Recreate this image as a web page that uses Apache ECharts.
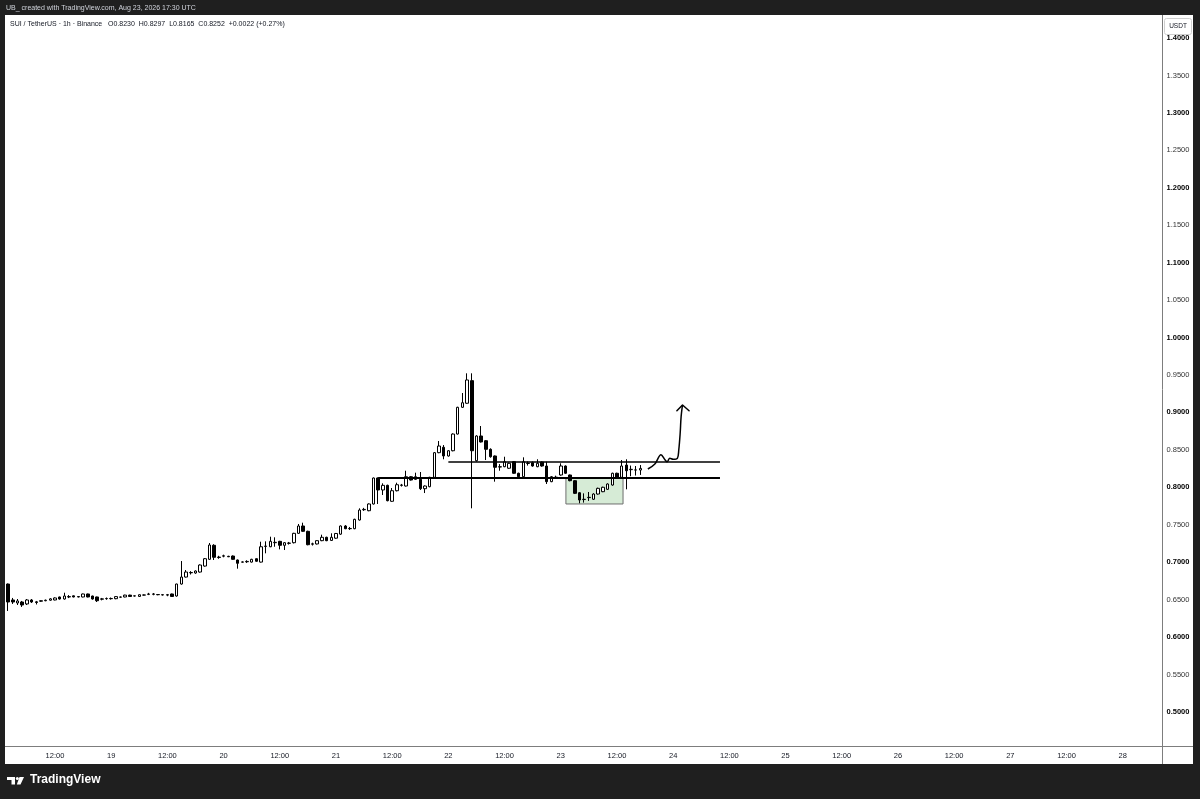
<!DOCTYPE html>
<html>
<head>
<meta charset="utf-8">
<script src="https://cdn.jsdelivr.net/npm/echarts@6/dist/echarts.min.js"></script>
<style>
  html, body { margin: 0; padding: 0; background: #1f1f1f; }
  #wrap { position: relative; width: 1200px; height: 799px; background: #1f1f1f; overflow: hidden; }
  #panel { position: absolute; left: 5px; top: 15px; width: 1188px; height: 749px; background: #ffffff; }
  #chart { position: absolute; left: 0; top: 0; width: 1200px; height: 799px; }
</style>
</head>
<body>
<div id="wrap">
  <div id="panel"></div>
  <div id="chart"></div>
</div>
<script>
// ---- Data (SUI/USDT, 1h, Binance) : hourly candles from Aug 18 02:00 to Aug 23 17:00 ----
const firstHour = 2;      // hours since Aug 18 00:00 of first candle
const lastAxisHour = 248; // last hourly slot on the time axis (Aug 28 08:00)

const opens = [
  0.6708,0.6495,0.6455,0.6468,0.6442,0.6495,0.6470,0.6478,0.6485,0.6492,
  0.6495,0.6535,0.6508,0.6535,0.6550,0.6540,0.6535,0.6575,0.6548,0.6535,
  0.6505,0.6512,0.6515,0.6512,0.6532,0.6535,0.6560,0.6548,0.6542,0.6562,
  0.6570,0.6575,0.6568,0.6565,0.6565,0.6575,0.6548,0.6708,0.6801,0.6862,
  0.6855,0.6868,0.6948,0.7038,0.7225,0.7062,0.7080,0.7078,0.7082,0.7029,
  0.7000,0.7005,0.7001,0.7046,0.7001,0.7210,0.7206,0.7260,0.7278,0.7225,
  0.7255,0.7260,0.7385,0.7483,0.7412,0.7240,0.7243,0.7287,0.7332,0.7290,
  0.7320,0.7374,0.7483,0.7447,0.7447,0.7563,0.7700,0.7687,0.7777,0.8124,
  0.7964,0.8026,0.7813,0.7954,0.8026,0.8017,0.8141,0.8106,0.8106,0.7981,
  0.8008,0.8133,0.8462,0.8534,0.8418,0.8488,0.8711,0.9068,0.9122,0.9424,
  0.8355,0.8685,0.8622,0.8507,0.8418,0.8270,0.8275,0.8254,0.8341,0.8187,
  0.8141,0.8318,0.8328,0.8275,0.8337,0.8284,0.8075,0.8130,0.8164,0.8284,
  0.8164,0.8088,0.7927,0.7836,0.7862,0.7840,0.7910,0.7941,0.7973,0.8030,
  0.8187,0.8133,0.8297,0.8235,0.8230,0.8230
];
const highs = [
  0.6715,0.6522,0.6508,0.6482,0.6508,0.6508,0.6482,0.6490,0.6500,0.6520,
  0.6530,0.6540,0.6592,0.6560,0.6555,0.6545,0.6580,0.6580,0.6552,0.6540,
  0.6522,0.6528,0.6528,0.6545,0.6540,0.6565,0.6565,0.6555,0.6570,0.6568,
  0.6590,0.6588,0.6572,0.6570,0.6575,0.6580,0.6712,0.7015,0.6895,0.6880,
  0.6890,0.6970,0.7055,0.7256,0.7240,0.7085,0.7100,0.7085,0.7090,0.7035,
  0.7010,0.7025,0.7045,0.7050,0.7273,0.7278,0.7340,0.7332,0.7285,0.7268,
  0.7270,0.7392,0.7510,0.7527,0.7420,0.7260,0.7292,0.7367,0.7340,0.7385,
  0.7390,0.7490,0.7495,0.7470,0.7580,0.7719,0.7725,0.7785,0.8130,0.8130,
  0.8053,0.8035,0.7990,0.8061,0.8045,0.8221,0.8150,0.8195,0.8204,0.8025,
  0.8140,0.8470,0.8618,0.8564,0.8495,0.8720,0.9075,0.9259,0.9522,0.9522,
  0.8695,0.8818,0.8630,0.8520,0.8425,0.8310,0.8408,0.8330,0.8350,0.8195,
  0.8400,0.8345,0.8345,0.8374,0.8345,0.8341,0.8150,0.8155,0.8320,0.8292,
  0.8170,0.8095,0.7935,0.7919,0.7937,0.7920,0.7995,0.8008,0.8052,0.8195,
  0.8195,0.8364,0.8374,0.8290,0.8284,0.8297
];
const lows = [
  0.6348,0.6442,0.6428,0.6402,0.6428,0.6455,0.6435,0.6470,0.6478,0.6485,
  0.6490,0.6500,0.6500,0.6520,0.6530,0.6530,0.6530,0.6530,0.6500,0.6468,
  0.6490,0.6498,0.6500,0.6505,0.6525,0.6530,0.6538,0.6542,0.6538,0.6555,
  0.6560,0.6558,0.6558,0.6555,0.6545,0.6538,0.6540,0.6700,0.6795,0.6835,
  0.6845,0.6860,0.6940,0.7030,0.7029,0.7045,0.7065,0.7068,0.7032,0.6913,
  0.6995,0.6990,0.6995,0.7005,0.6995,0.7118,0.7200,0.7206,0.7171,0.7162,
  0.7235,0.7250,0.7378,0.7405,0.7225,0.7222,0.7236,0.7280,0.7280,0.7283,
  0.7312,0.7365,0.7440,0.7430,0.7440,0.7556,0.7685,0.7680,0.7770,0.7777,
  0.7897,0.7812,0.7805,0.7945,0.8010,0.8010,0.8090,0.8098,0.7964,0.7923,
  0.8000,0.8125,0.8455,0.8374,0.8410,0.8480,0.8705,0.9060,0.9115,0.7719,
  0.8342,0.8598,0.8364,0.8395,0.8075,0.8221,0.8268,0.8245,0.8180,0.8134,
  0.8134,0.8290,0.8275,0.8268,0.8275,0.8044,0.8068,0.8115,0.8155,0.8180,
  0.8080,0.7910,0.7786,0.7795,0.7818,0.7832,0.7902,0.7935,0.7965,0.8022,
  0.8126,0.8126,0.7973,0.8148,0.8157,0.8165
];
const closes = [
  0.6468,0.6468,0.6482,0.6428,0.6495,0.6468,0.6462,0.6485,0.6492,0.6510,
  0.6522,0.6508,0.6548,0.6540,0.6535,0.6535,0.6575,0.6535,0.6508,0.6485,
  0.6510,0.6515,0.6512,0.6540,0.6535,0.6560,0.6542,0.6550,0.6565,0.6560,
  0.6575,0.6572,0.6565,0.6562,0.6560,0.6542,0.6708,0.6801,0.6868,0.6858,
  0.6882,0.6962,0.7046,0.7229,0.7065,0.7068,0.7085,0.7072,0.7038,0.6985,
  0.7003,0.7010,0.7038,0.7012,0.7206,0.7215,0.7278,0.7265,0.7225,0.7260,
  0.7252,0.7385,0.7483,0.7412,0.7233,0.7245,0.7287,0.7332,0.7287,0.7332,
  0.7383,0.7483,0.7447,0.7450,0.7572,0.7696,0.7705,0.7777,0.8124,0.7964,
  0.8026,0.7821,0.7954,0.8034,0.8030,0.8141,0.8097,0.8141,0.7981,0.8017,
  0.8133,0.8462,0.8551,0.8418,0.8488,0.8711,0.9068,0.9129,0.9433,0.8488,
  0.8685,0.8605,0.8507,0.8408,0.8267,0.8275,0.8341,0.8320,0.8187,0.8141,
  0.8341,0.8322,0.8284,0.8320,0.8284,0.8075,0.8141,0.8135,0.8284,0.8187,
  0.8088,0.7919,0.7830,0.7840,0.7866,0.7910,0.7986,0.8000,0.8044,0.8187,
  0.8133,0.8284,0.8221,0.8240,0.8232,0.8252
];
const lastPrice = 0.8252;

// time-axis tick labels, every 12h starting Aug 18 12:00
const timeTickLabels = ['12:00','19','12:00','20','12:00','21','12:00','22','12:00','23',
                        '12:00','24','12:00','25','12:00','26','12:00','27','12:00','28'];
// price-axis range/ticks
const priceMin = 0.45, priceMax = 1.45, priceStep = 0.05, priceLabelLow = 0.5, priceLabelHigh = 1.4;

// drawings (x in hours since Aug 18 00:00, y in price)
const upperLevel = [[96, 0.8338], [154, 0.8338]];
const lowerLevel = [[81, 0.8124], [154, 0.8124]];
const demandZone = [[121.1, 0.8124], [133.3, 0.7777]];
const projectionPath = [
  [138.6,0.8244],[140.1,0.8311],[141.4,0.8435],[142.3,0.8364],[142.7,0.8341],
  [143.3,0.8387],[144.0,0.8373],[144.9,0.8387],[145.2,0.8498],[145.5,0.8721],
  [145.7,0.8942],[146.0,0.9099]
];
const arrowHead = [[144.8,0.9022],[146.0,0.9099],[147.4,0.9022]];

// ---- build ----
const categories = [];
for (let h = firstHour; h <= lastAxisHour; h++) {
  const day = 18 + Math.floor(h / 24);
  const hh = String(h % 24).padStart(2, '0');
  categories.push('2026-08-' + day + ' ' + hh + ':00');
}
const candleData = opens.map((o, i) => [o, closes[i], lows[i], highs[i]]);

const FONT = "'Liberation Sans', Arial, sans-serif";
const chart = echarts.init(document.getElementById('chart'), null, { renderer: 'canvas' });

const gridLeft = 5.82, gridWidth = 1156.7, gridTop = 0.56, gridHeight = 748.8;

const option = {
  animation: false,
  backgroundColor: 'transparent',
  grid: { left: gridLeft, top: gridTop, width: gridWidth, height: gridHeight, containLabel: false },
  xAxis: [
    {
      type: 'category',
      data: categories,
      boundaryGap: true,
      axisLine: { show: false },
      axisTick: { show: false },
      splitLine: { show: false },
      axisLabel: {
        interval: (i) => (i + firstHour) % 12 === 0,
        formatter: (v, i) => timeTickLabels[(i + firstHour) / 12 - 1] || '',
        fontSize: 7.5, fontFamily: FONT, color: '#131722', margin: 2.5
      }
    },
    {
      type: 'value',
      min: firstHour - 0.5,
      max: lastAxisHour + 0.5,
      show: false
    }
  ],
  yAxis: {
    type: 'value',
    position: 'right',
    min: priceMin, max: priceMax, interval: priceStep,
    axisLine: { show: false },
    axisTick: { show: false },
    splitLine: { show: false },
    axisLabel: {
      margin: 4,
      fontFamily: FONT,
      formatter: (v) => {
        if (v < priceLabelLow - 1e-6 || v > priceLabelHigh + 1e-6) return '';
        const s = v.toFixed(4);
        return (Math.round(v * 100) % 10 === 0) ? '{a|' + s + '}' : '{b|' + s + '}';
      },
      rich: {
        a: { fontSize: 7.5, color: '#000000', fontWeight: 'bold', fontFamily: FONT },
        b: { fontSize: 7.5, color: '#333333', fontFamily: FONT }
      }
    }
  },
  series: [
    {
      name: 'zone', type: 'line', xAxisIndex: 1, data: [], silent: true,
      markArea: {
        silent: true,
        itemStyle: { color: '#d6ebd6', borderColor: '#6e6e6e', borderWidth: 1 },
        data: [[{ coord: demandZone[0] }, { coord: demandZone[1] }]]
      }
    },
    {
      name: 'SUI/USDT', type: 'candlestick', xAxisIndex: 0,
      data: candleData,
      barWidth: 3,
      silent: true,
      itemStyle: { color: '#ffffff', color0: '#000000', borderColor: '#000000', borderColor0: '#000000', borderWidth: 1 },
      markLine: {
        silent: true, symbol: 'none',
        lineStyle: { opacity: 0 },
        label: { position: 'end', distance: 4, formatter: () => lastPrice.toFixed(4), fontSize: 7.5, color: '#333333', fontFamily: FONT },
        data: [{ yAxis: lastPrice }]
      }
    },
    {
      name: 'upper', type: 'line', xAxisIndex: 1, data: upperLevel, symbol: 'none', silent: true,
      lineStyle: { color: '#000', width: 1.5 }
    },
    {
      name: 'lower', type: 'line', xAxisIndex: 1, data: lowerLevel, symbol: 'none', silent: true,
      lineStyle: { color: '#000', width: 2 }
    },
    {
      name: 'projection', type: 'line', xAxisIndex: 1, data: projectionPath, symbol: 'none', silent: true,
      smooth: 0.35, lineStyle: { color: '#000', width: 1.5 }
    },
    {
      name: 'arrow', type: 'line', xAxisIndex: 1, data: arrowHead, symbol: 'none', silent: true,
      lineStyle: { color: '#000', width: 1.5, join: 'round', cap: 'round' }
    }
  ],
  graphic: [
    { type: 'text', left: 6, top: 5, z: 100, style: { text: 'UB_ created with TradingView.com, Aug 23, 2026 17:30 UTC', fill: '#d1d4dc', font: '7px ' + FONT } },
    { type: 'text', left: 10, top: 20.5, z: 100, style: { text: 'SUI / TetherUS · 1h · Binance   O0.8230  H0.8297  L0.8165  C0.8252  +0.0022 (+0.27%)', fill: '#131722', font: '7px ' + FONT } },
    { type: 'line', z: 100, shape: { x1: 1162.5, y1: 15, x2: 1162.5, y2: 764 }, style: { stroke: '#7d7d7d', lineWidth: 1 } },
    { type: 'line', z: 100, shape: { x1: 5, y1: 746.5, x2: 1193, y2: 746.5 }, style: { stroke: '#7d7d7d', lineWidth: 1 } },
    { type: 'rect', z: 100, shape: { x: 1164.5, y: 18.5, width: 27, height: 16, r: 2 }, style: { fill: '#ffffff', stroke: '#cfcfcf', lineWidth: 1 } },
    { type: 'text', z: 101, x: 1178, y: 26.5, style: { text: 'USDT', fill: '#131722', font: '6.5px ' + FONT, textAlign: 'center', textVerticalAlign: 'middle' } },
    // TradingView logo
    { type: 'polygon', z: 100, shape: { points: [[7,777],[15,777],[15,784.5],[11.5,784.5],[11.5,780],[7,780]] }, style: { fill: '#ffffff' } },
    { type: 'circle', z: 100, shape: { cx: 17.3, cy: 778.5, r: 1.5 }, style: { fill: '#ffffff' } },
    { type: 'polygon', z: 100, shape: { points: [[19.5,777],[24,777],[20.5,784.5],[16.8,784.5]] }, style: { fill: '#ffffff' } },
    { type: 'text', z: 100, left: 30, top: 774, style: { text: 'TradingView', fill: '#ffffff', font: 'bold 12px ' + FONT } }
  ]
};
chart.setOption(option);
</script>
</body>
</html>
